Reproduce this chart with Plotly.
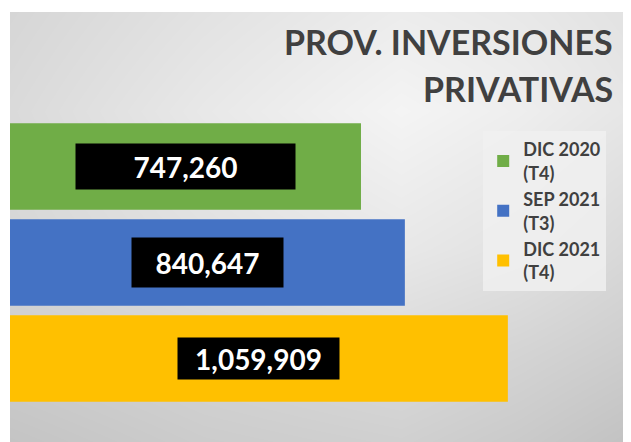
import plotly.graph_objects as go

# data
periodos = ["DIC 2020<br>(T4)", "SEP 2021<br>(T3)", "DIC 2021<br>(T4)"]
valores = [747260, 840647, 1059909]
colores = ["#70ad47", "#4472c4", "#ffc000"]
titulo = ["PROV. INVERSIONES", "PRIVATIVAS"]

# label box sizes (px)
caja_w = [217, 149, 159]
caja_h = [43, 47, 39]

# background shading (grey levels), rows top->bottom, cols left->right
fondo_x = [0.0, 0.31, 0.63, 0.82, 1.0]
fondo_y = [1.0, 0.77, 0.45, 0.21, 0.0]
fondo_z = [
    [214, 226, 236, 232, 226],
    [218, 232, 244, 238, 230],
    [214, 224, 232, 226, 216],
    [205, 212, 218, 212, 205],
    [196, 204, 208, 202, 194],
]

FONT = "Lato"
GRIS = "#404040"

fig = go.Figure()

# gradient background
fig.add_trace(go.Heatmap(
    x=fondo_x, y=fondo_y, z=fondo_z, zsmooth="best",
    zmin=190, zmax=250,
    colorscale=[[0, "rgb(190,190,190)"], [1, "rgb(250,250,250)"]],
    showscale=False, hoverinfo="skip", xaxis="x", yaxis="y",
))

for nombre, v, c in zip(periodos, valores, colores):
    fig.add_trace(go.Bar(
        x=[v], y=[nombre], orientation="h", name=nombre,
        marker=dict(color=c, line=dict(width=0)), width=0.9,
        xaxis="x2", yaxis="y2",
    ))

for nombre, v, w, h in zip(periodos, valores, caja_w, caja_h):
    fig.add_annotation(
        x=v / 2, y=nombre, xref="x2", yref="y2",
        text=f"<b>{v:,}</b>", showarrow=False,
        font=dict(family=FONT, size=28, color="white"),
        bgcolor="black", width=w, height=h, valign="middle",
    )

# title, two right-aligned lines
for i, linea in enumerate(titulo):
    fig.add_annotation(
        x=0.974, y=0.984 - i * 0.109, xref="paper", yref="paper",
        xanchor="right", yanchor="top", text=f"<b>{linea}</b>",
        showarrow=False, font=dict(family=FONT, size=34, color=GRIS),
    )

# page body has an 8px margin, so the figure is offset by 8px
fig.update_layout(
    width=623, height=434,
    margin=dict(l=2, r=0, t=4, b=0),
    paper_bgcolor="white", plot_bgcolor="#e0e0e0",
    barmode="overlay",
    xaxis=dict(range=[0, 1], visible=False, fixedrange=True),
    yaxis=dict(range=[0, 1], visible=False, fixedrange=True),
    xaxis2=dict(range=[0, 1322100], overlaying="x", visible=False),
    yaxis2=dict(range=[2.87, -1.61], overlaying="y", visible=False,
                type="category"),
    legend=dict(
        x=0.762, xanchor="left", y=0.723, yanchor="top",
        bgcolor="rgba(240,240,240,0.85)",
        font=dict(family=FONT, size=18, color=GRIS, weight="bold"),
        itemclick=False,
    ),
    showlegend=True,
)

fig.write_html("out.html")
